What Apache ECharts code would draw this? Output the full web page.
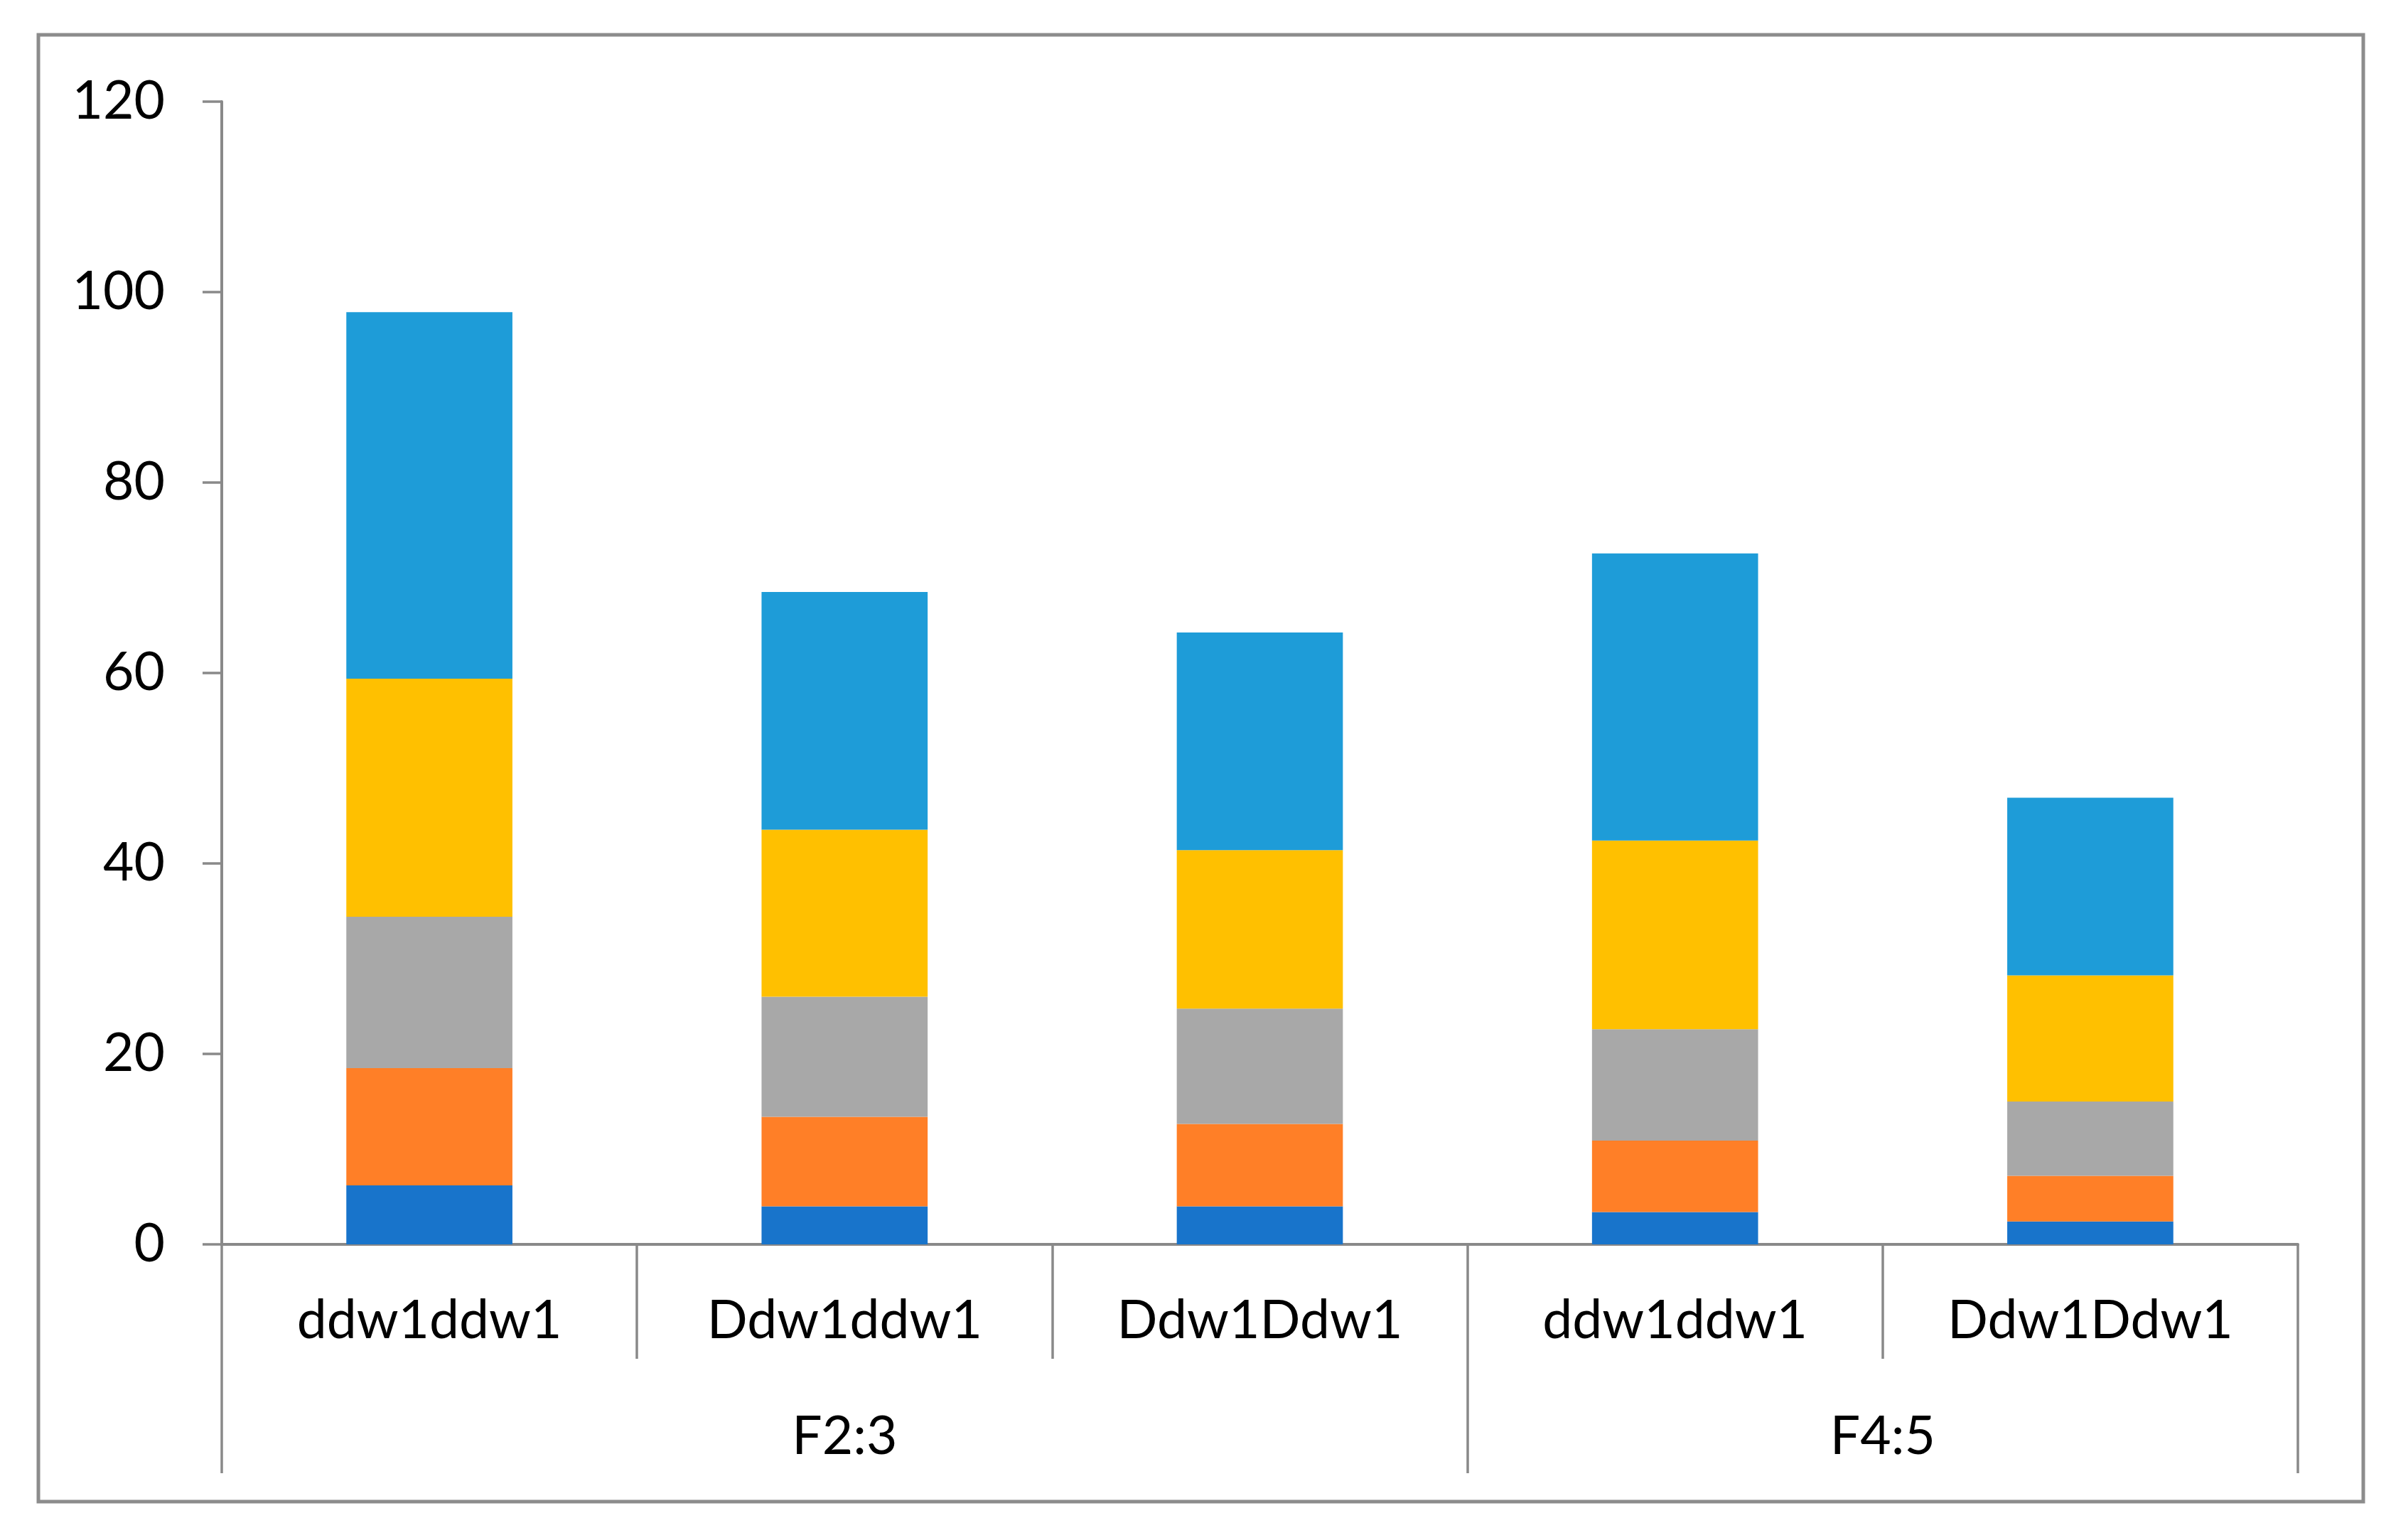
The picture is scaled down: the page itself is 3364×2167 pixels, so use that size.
<!DOCTYPE html>
<html>
<head>
<meta charset="utf-8">
<script src="https://cdn.jsdelivr.net/npm/echarts@6/dist/echarts.min.js"></script>
<style>
html,body{margin:0;padding:0;background:#fff;}
#chart{width:3364px;height:2167px;}
</style>
</head>
<body>
<div id="chart"></div>
<script>
// ---- data ----
const categories = ['ddw1ddw1', 'Ddw1ddw1', 'Ddw1Ddw1', 'ddw1ddw1', 'Ddw1Ddw1'];
const groups = ['F2:3', 'F4:5'];
const groupSizes = [3, 2];
const yTicks = [0, 20, 40, 60, 80, 100, 120];

const seriesNames = ['S1', 'S2', 'S3', 'S4', 'S5'];
const s1 = [6.2, 4.0, 4.0, 3.4, 2.4];
const s2 = [12.3, 9.4, 8.65, 7.5, 4.8];
const s3 = [15.9, 12.6, 12.1, 11.7, 7.8];
const s4 = [25.0, 17.55, 16.65, 19.8, 13.25];
const s5 = [38.5, 24.95, 22.85, 30.15, 18.65];
const seriesValues = [s1, s2, s3, s4, s5];
const colors = ['#1874CB', '#FF7F27', '#A8A8A8', '#FFC000', '#1E9CD8'];

// ---- group axis slots (half-category positions) ----
const nSlots = categories.length * 2 + 1;
const slotLabels = new Array(nSlots).fill('');
const groupTickIdx = [0];
let acc = 0;
groups.forEach((g, i) => {
  const mid = acc + groupSizes[i] / 2;
  slotLabels[Math.round(mid * 2)] = g;
  acc += groupSizes[i];
  groupTickIdx.push(acc * 2);
});

const FONT = 'Lato';
const AXIS_COLOR = '#898989';

const chart = echarts.init(document.getElementById('chart'));
chart.setOption({
  animation: false,
  backgroundColor: '#ffffff',
  textStyle: { fontFamily: FONT },
  grid: { left: 312, top: 143, right: 131, bottom: 416, containLabel: false, outerBoundsMode: 'none' },
  xAxis: [
    {
      type: 'category',
      position: 'bottom',
      data: categories,
      axisLine: { show: true, lineStyle: { color: AXIS_COLOR, width: 4 } },
      axisTick: { show: true, interval: 0, length: 161, lineStyle: { color: AXIS_COLOR, width: 3.5 } },
      axisLabel: { interval: 0, fontSize: 75, fontFamily: FONT, color: '#000', margin: 70 },
      splitLine: { show: false }
    },
    {
      type: 'category',
      position: 'bottom',
      boundaryGap: false,
      data: slotLabels,
      axisLine: { show: false },
      axisTick: {
        show: true,
        interval: function (i) { return groupTickIdx.indexOf(i) >= 0; },
        length: 322,
        lineStyle: { color: AXIS_COLOR, width: 3.5 }
      },
      axisLabel: {
        interval: function (i) { return slotLabels[i] !== ''; },
        fontSize: 75, fontFamily: FONT, color: '#000', margin: 233
      },
      splitLine: { show: false }
    }
  ],
  yAxis: {
    type: 'value',
    min: yTicks[0],
    max: yTicks[yTicks.length - 1],
    interval: yTicks[1] - yTicks[0],
    axisLine: { show: true, lineStyle: { color: AXIS_COLOR, width: 4 } },
    axisTick: { show: true, length: 27, lineStyle: { color: AXIS_COLOR, width: 3.5 } },
    axisLabel: { fontSize: 75, fontFamily: FONT, color: '#000', margin: 80 },
    splitLine: { show: false }
  },
  series: seriesValues.map((vals, i) => ({
    name: seriesNames[i],
    type: 'bar',
    stack: 'total',
    xAxisIndex: 0,
    barWidth: '40%',
    itemStyle: { color: colors[i] },
    data: vals
  })),
  graphic: [{
    type: 'rect',
    shape: { x: 54, y: 49, width: 3271, height: 2064 },
    style: { fill: 'none', stroke: '#8C8C8C', lineWidth: 5 },
    silent: true
  }]
});
</script>
</body>
</html>
